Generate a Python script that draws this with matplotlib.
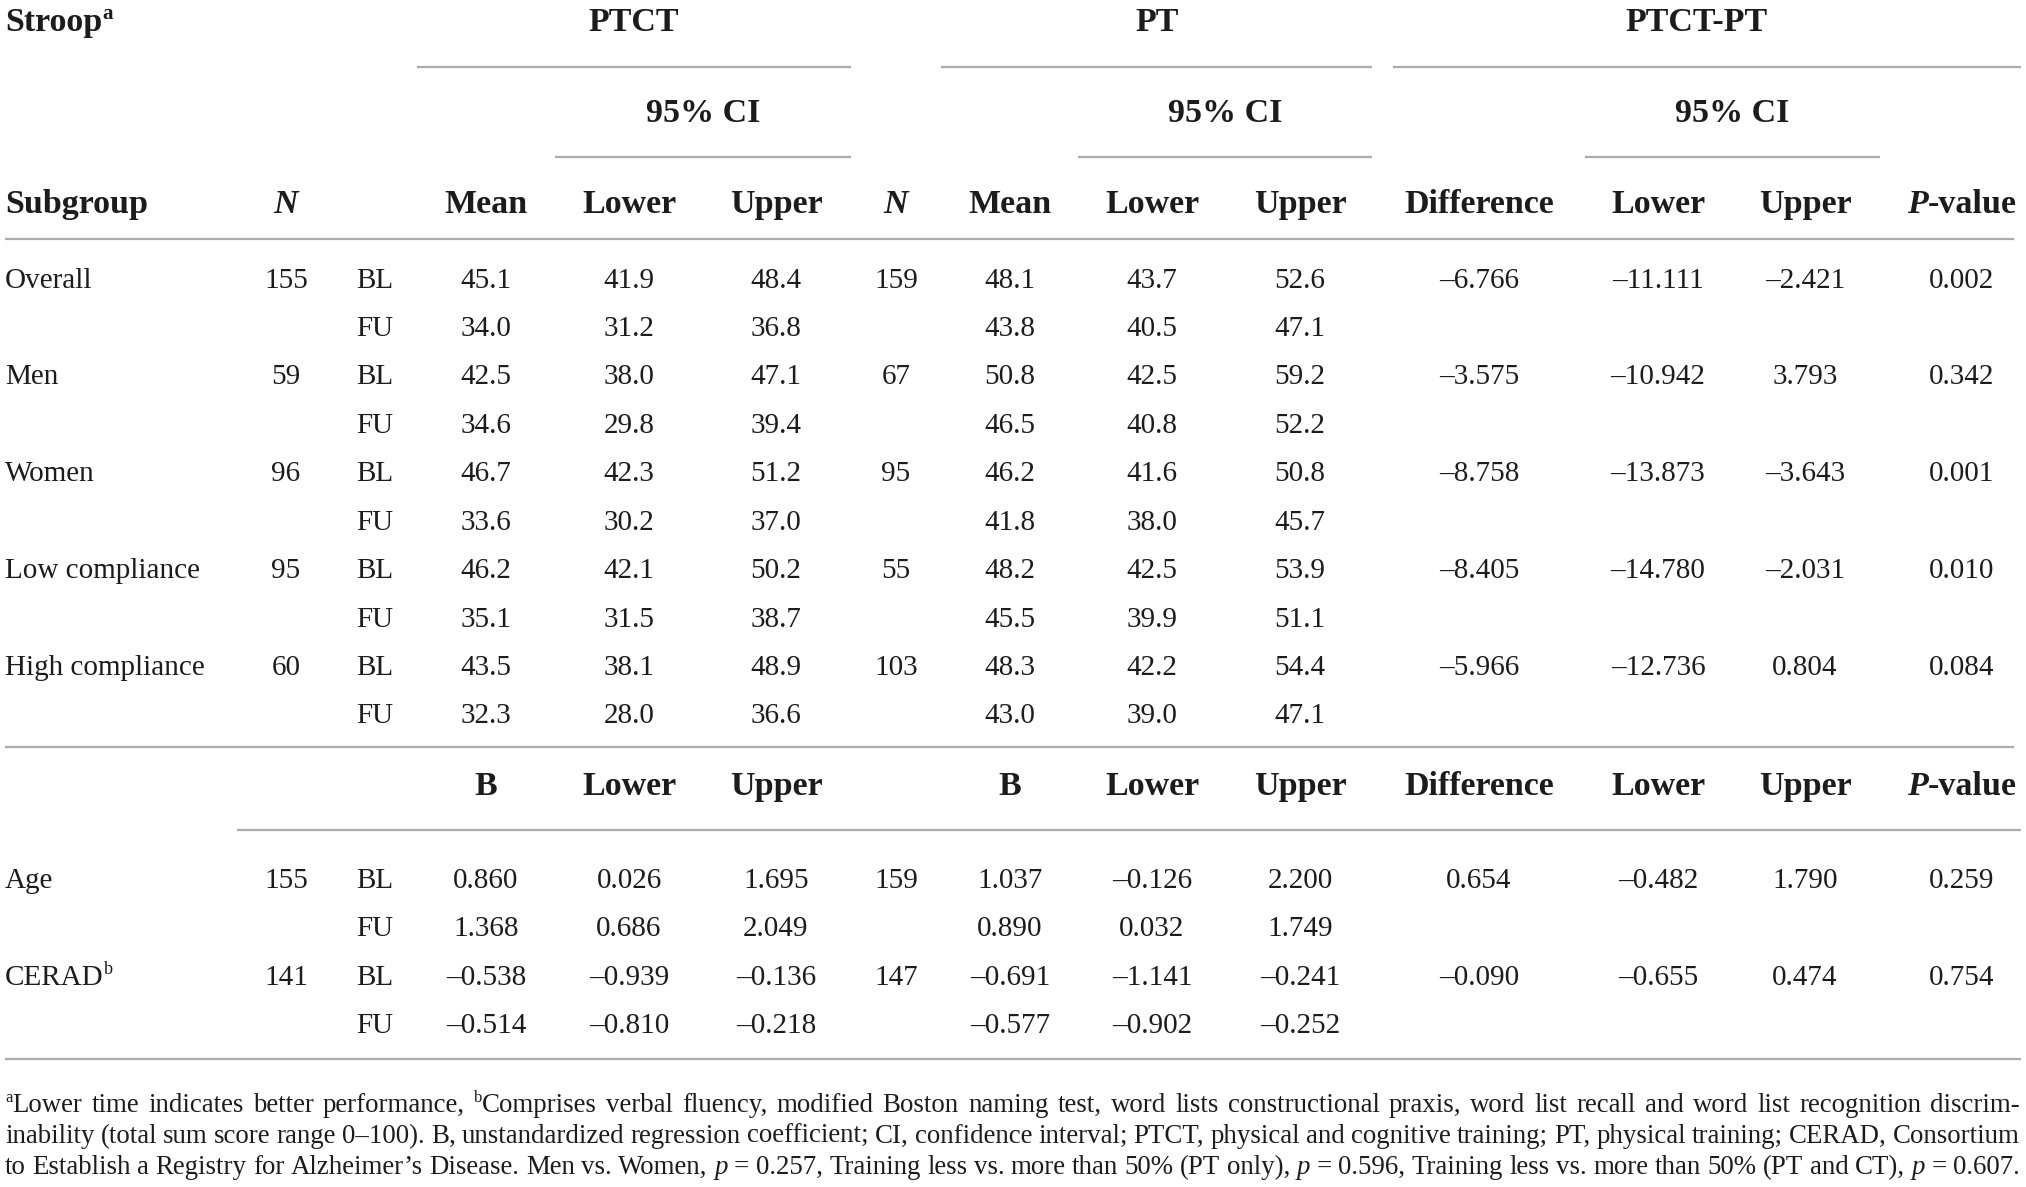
import matplotlib
matplotlib.use("Agg")
import matplotlib.pyplot as plt

# ---- table data (Stroop) ----
subgroups = ["Overall", "Men", "Women", "Low compliance", "High compliance"]
n_ptct = [155, 59, 96, 95, 60]
ptct_mean_bl = [45.1, 42.5, 46.7, 46.2, 43.5]
ptct_low_bl = [41.9, 38.0, 42.3, 42.1, 38.1]
ptct_up_bl = [48.4, 47.1, 51.2, 50.2, 48.9]
ptct_mean_fu = [34.0, 34.6, 33.6, 35.1, 32.3]
ptct_low_fu = [31.2, 29.8, 30.2, 31.5, 28.0]
ptct_up_fu = [36.8, 39.4, 37.0, 38.7, 36.6]
n_pt = [159, 67, 95, 55, 103]
pt_mean_bl = [48.1, 50.8, 46.2, 48.2, 48.3]
pt_low_bl = [43.7, 42.5, 41.6, 42.5, 42.2]
pt_up_bl = [52.6, 59.2, 50.8, 53.9, 54.4]
pt_mean_fu = [43.8, 46.5, 41.8, 45.5, 43.0]
pt_low_fu = [40.5, 40.8, 38.0, 39.9, 39.0]
pt_up_fu = [47.1, 52.2, 45.7, 51.1, 47.1]
diff = [-6.766, -3.575, -8.758, -8.405, -5.966]
diff_low = [-11.111, -10.942, -13.873, -14.780, -12.736]
diff_up = [-2.421, 3.793, -3.643, -2.031, 0.804]
pval = [0.002, 0.342, 0.001, 0.010, 0.084]

# ---- regression part ----
covariates = ["Age", "CERAD"]
n_ptct_reg = [155, 141]
ptct_b_bl = [0.860, -0.538]
ptct_blow_bl = [0.026, -0.939]
ptct_bup_bl = [1.695, -0.136]
ptct_b_fu = [1.368, -0.514]
ptct_blow_fu = [0.686, -0.810]
ptct_bup_fu = [2.049, -0.218]
n_pt_reg = [159, 147]
pt_b_bl = [1.037, -0.691]
pt_blow_bl = [-0.126, -1.141]
pt_bup_bl = [2.200, -0.241]
pt_b_fu = [0.890, -0.577]
pt_blow_fu = [0.032, -0.902]
pt_bup_fu = [1.749, -0.252]
reg_diff = [0.654, -0.090]
reg_low = [-0.482, -0.655]
reg_up = [1.790, 0.474]
reg_p = [0.259, 0.754]

footnote = [
    "^aLower time indicates better performance, ^bComprises verbal fluency, modified Boston naming test, "
    "word lists constructional praxis, word list recall and word list recognition discrim-",
    "inability (total sum score range 0\u2013100). B, unstandardized regression coefficient; CI, confidence "
    "interval; PTCT, physical and cognitive training; PT, physical training; CERAD, Consortium",
    "to Establish a Registry for Alzheimer\u2019s Disease. Men vs. Women, *p* = 0.257, Training less vs. "
    "more than 50% (PT only), *p* = 0.596, Training less vs. more than 50% (PT and CT), *p* = 0.607.",
]

W, H = 2026, 1187
FONT = "Liberation Serif"
INK = "#1c1c1c"
RULE = "#ababab"
BODY = 21
HEAD = 24.5
PX = 100 / 72.0

fig = plt.figure(figsize=(W / 100, H / 100), dpi=100)
ax = fig.add_axes([0, 0, 1, 1])
ax.set_xlim(0, W)
ax.set_ylim(H, 0)
ax.axis("off")
renderer = fig.canvas.get_renderer()


def width_of(s, size, weight, style):
    t = ax.text(0, 0, s, fontsize=size, fontweight=weight, fontstyle=style, family=FONT)
    w = t.get_window_extent(renderer).width
    t.remove()
    return w


def measure(runs, size, weight):
    out = []
    for txt, st in runs:
        sz = size * 0.62 if st == "s" else size
        fs = "italic" if st == "i" else "normal"
        out.append((txt, sz, fs, width_of(txt, sz, weight, fs), st))
    return out


def draw_runs(x, y, runs, size, weight="normal", ha="left", items=None):
    if items is None:
        items = measure(runs, size, weight)
    total = sum(i[3] for i in items)
    if ha == "center":
        x -= total / 2
    elif ha == "right":
        x -= total
    for txt, sz, fs, w, st in items:
        dy = -size * PX * 0.36 if st == "s" else 0
        ax.text(x, y + dy, txt, fontsize=sz, fontweight=weight, fontstyle=fs,
                family=FONT, va="baseline", ha="left", color=INK)
        x += w
    return total


def cell(x, y, s, size=BODY, weight="normal", style="normal", ha="center"):
    ax.text(x, y, s, fontsize=size, fontweight=weight, fontstyle=style,
            family=FONT, va="baseline", ha=ha, color=INK)


def rule(y, x0, x1):
    ax.plot([x0, x1], [y, y], color=RULE, lw=1.6, solid_capstyle="butt")


def fmt(v, nd):
    return f"{v:.{nd}f}".replace("-", "\u2013")


# column centres
cx = {"N": 286, "tp": 375, "m1": 486, "l1": 629, "u1": 776, "N2": 896,
      "m2": 1010, "l2": 1152, "u2": 1300, "d": 1479, "l3": 1658, "u3": 1805, "p": 1962}

# ---- headers ----
draw_runs(5, 31, [("Stroop", "n"), ("a", "s")], HEAD, weight="bold")
cell(634, 31, "PTCT", HEAD, "bold")
cell(1157, 31, "PT", HEAD, "bold")
cell(1697, 31, "PTCT-PT", HEAD, "bold")
rule(67, 417, 851)
rule(67, 941, 1372)
rule(67, 1393, 2021)
for x in (703, 1225, 1732):
    cell(x, 122, "95% CI", HEAD, "bold")
rule(157, 555, 851)
rule(157, 1078, 1372)
rule(157, 1585, 1880)

hy = 213
cell(5, hy, "Subgroup", HEAD, "bold", ha="left")
cell(cx["N"], hy, "N", HEAD, "bold", "italic")
cell(cx["N2"], hy, "N", HEAD, "bold", "italic")
for k, lab in [("m1", "Mean"), ("l1", "Lower"), ("u1", "Upper"), ("m2", "Mean"),
               ("l2", "Lower"), ("u2", "Upper"), ("d", "Difference"), ("l3", "Lower"), ("u3", "Upper")]:
    cell(cx[k], hy, lab, HEAD, "bold")
draw_runs(cx["p"], hy, [("P", "i"), ("-value", "n")], HEAD, weight="bold", ha="center")
rule(239, 5, 2014)

# ---- subgroup rows ----
row0, step = 287.5, 48.44
for i, name in enumerate(subgroups):
    yb = row0 + 2 * i * step
    yf = yb + step
    cell(5, yb, name, ha="left")
    cell(cx["N"], yb, str(n_ptct[i]))
    cell(cx["N2"], yb, str(n_pt[i]))
    cell(cx["tp"], yb, "BL")
    cell(cx["tp"], yf, "FU")
    cell(cx["m1"], yb, fmt(ptct_mean_bl[i], 1))
    cell(cx["l1"], yb, fmt(ptct_low_bl[i], 1))
    cell(cx["u1"], yb, fmt(ptct_up_bl[i], 1))
    cell(cx["m1"], yf, fmt(ptct_mean_fu[i], 1))
    cell(cx["l1"], yf, fmt(ptct_low_fu[i], 1))
    cell(cx["u1"], yf, fmt(ptct_up_fu[i], 1))
    cell(cx["m2"], yb, fmt(pt_mean_bl[i], 1))
    cell(cx["l2"], yb, fmt(pt_low_bl[i], 1))
    cell(cx["u2"], yb, fmt(pt_up_bl[i], 1))
    cell(cx["m2"], yf, fmt(pt_mean_fu[i], 1))
    cell(cx["l2"], yf, fmt(pt_low_fu[i], 1))
    cell(cx["u2"], yf, fmt(pt_up_fu[i], 1))
    cell(cx["d"], yb, fmt(diff[i], 3))
    cell(cx["l3"], yb, fmt(diff_low[i], 3))
    cell(cx["u3"], yb, fmt(diff_up[i], 3))
    cell(cx["p"], yb, fmt(pval[i], 3))
rule(747, 5, 2014)

# ---- regression header ----
hy2 = 795
for k, lab in [("m1", "B"), ("l1", "Lower"), ("u1", "Upper"), ("m2", "B"), ("l2", "Lower"),
               ("u2", "Upper"), ("d", "Difference"), ("l3", "Lower"), ("u3", "Upper")]:
    cell(cx[k], hy2, lab, HEAD, "bold")
draw_runs(cx["p"], hy2, [("P", "i"), ("-value", "n")], HEAD, weight="bold", ha="center")
rule(830, 237, 2021)

reg0 = 888
for i, name in enumerate(covariates):
    yb = reg0 + 2 * i * step
    yf = yb + step
    if name == "CERAD":
        draw_runs(5, yb, [("CERAD", "n"), ("b", "s")], BODY)
    else:
        cell(5, yb, name, ha="left")
    cell(cx["N"], yb, str(n_ptct_reg[i]))
    cell(cx["N2"], yb, str(n_pt_reg[i]))
    cell(cx["tp"], yb, "BL")
    cell(cx["tp"], yf, "FU")
    cell(cx["m1"], yb, fmt(ptct_b_bl[i], 3))
    cell(cx["l1"], yb, fmt(ptct_blow_bl[i], 3))
    cell(cx["u1"], yb, fmt(ptct_bup_bl[i], 3))
    cell(cx["m1"], yf, fmt(ptct_b_fu[i], 3))
    cell(cx["l1"], yf, fmt(ptct_blow_fu[i], 3))
    cell(cx["u1"], yf, fmt(ptct_bup_fu[i], 3))
    cell(cx["m2"], yb, fmt(pt_b_bl[i], 3))
    cell(cx["l2"], yb, fmt(pt_blow_bl[i], 3))
    cell(cx["u2"], yb, fmt(pt_bup_bl[i], 3))
    cell(cx["m2"], yf, fmt(pt_b_fu[i], 3))
    cell(cx["l2"], yf, fmt(pt_blow_fu[i], 3))
    cell(cx["u2"], yf, fmt(pt_bup_fu[i], 3))
    cell(cx["d"], yb, fmt(reg_diff[i], 3))
    cell(cx["l3"], yb, fmt(reg_low[i], 3))
    cell(cx["u3"], yb, fmt(reg_up[i], 3))
    cell(cx["p"], yb, fmt(reg_p[i], 3))
rule(1059, 5, 2021)


# ---- footnote, justified ----
def word_runs(w):
    if w.startswith("^"):
        return [(w[1], "s"), (w[2:], "n")]
    if w == "*p*":
        return [("p", "i")]
    return [(w, "n")]


x0, x1 = 5, 2020
# pick the size at which the lines fill the width with about normal spacing
probe = 10.0
space_w = width_of("a a", probe, "normal", "normal") - 2 * width_of("a", probe, "normal", "normal")
fits = []
for line in footnote:
    ws = line.split(" ")
    natural = sum(sum(i[3] for i in measure(word_runs(w), probe, "normal")) for w in ws)
    natural += (len(ws) - 1) * space_w * 0.9
    fits.append(probe * (x1 - x0) / natural)
NOTE = min(fits)

for line, yb in zip(footnote, [1112, 1143, 1174]):
    words = [measure(word_runs(w), NOTE, "normal") for w in line.split(" ")]
    widths = [sum(i[3] for i in wd) for wd in words]
    gap = (x1 - x0 - sum(widths)) / (len(words) - 1)
    x = x0
    for wd, w in zip(words, widths):
        draw_runs(x, yb, None, NOTE, items=wd)
        x += w + gap

fig.savefig("out.png", dpi=100, facecolor="white")
